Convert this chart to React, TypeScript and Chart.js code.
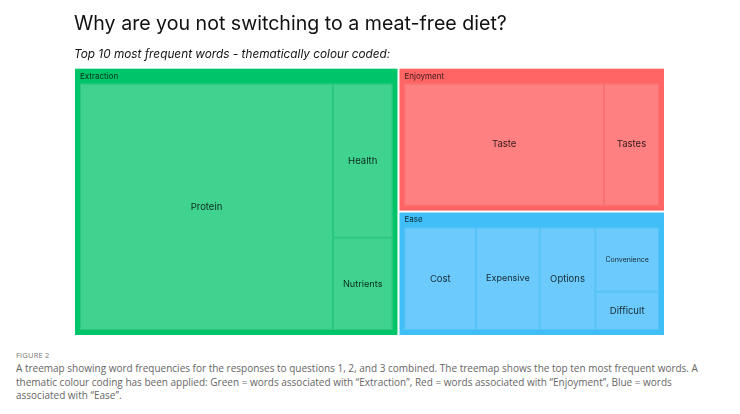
import React, { useEffect, useRef } from "react";
import { Chart, registerables } from "chart.js";

Chart.register(...registerables);

const groups = ["Extraction", "Enjoyment", "Ease"];
const groupColors = ["#00C46A", "#FF6565", "#40BEF8"];
const cellColors = ["#40D38F", "#FF8080", "#6CCBFC"];
const cellBorders = ["#2CC77E", "#F77272", "#55C2F5"];

const words = ["Protein", "Health", "Nutrients", "Taste", "Tastes", "Cost", "Expensive", "Options", "Convenience", "Difficult"];
const counts = [68, 10, 6, 29, 8, 9, 8, 7, 5, 3];
const wordGroups = ["Extraction", "Extraction", "Extraction", "Enjoyment", "Enjoyment", "Ease", "Ease", "Ease", "Ease", "Ease"];

const titleText = "Why are you not switching to a meat-free diet?";
const subtitleText = "Top 10 most frequent words - thematically colour coded:";

type Rect = { x: number; y: number; w: number; h: number };

function worst(row: number[], side: number) {
  const s = row.reduce((a, b) => a + b, 0);
  let mx = 0;
  for (const a of row) {
    const len = s / side;
    const other = a / len;
    const r = Math.max(len / other, other / len);
    if (r > mx) mx = r;
  }
  return mx;
}

function squarify(values: number[], rect: Rect): Rect[] {
  const total = values.reduce((a, b) => a + b, 0);
  const areas = values.map((v) => (v / total) * rect.w * rect.h);
  const out: Rect[] = [];
  let r = { ...rect };
  let row: number[] = [];
  const layoutRow = (rw: number[]) => {
    const s = rw.reduce((a, b) => a + b, 0);
    if (r.w > r.h) {
      const cw = s / r.h;
      let y = r.y;
      for (const a of rw) {
        const h = a / cw;
        out.push({ x: r.x, y, w: cw, h });
        y += h;
      }
      r = { x: r.x + cw, y: r.y, w: r.w - cw, h: r.h };
    } else {
      const rh = s / r.w;
      let x = r.x;
      for (const a of rw) {
        const w = a / rh;
        out.push({ x, y: r.y, w, h: rh });
        x += w;
      }
      r = { x: r.x, y: r.y + rh, w: r.w, h: r.h - rh };
    }
  };
  let i = 0;
  while (i < areas.length) {
    const side = Math.min(r.w, r.h);
    const a = areas[i];
    if (row.length === 0 || worst([...row, a], side) <= worst(row, side)) {
      row.push(a);
      i++;
    } else {
      layoutRow(row);
      row = [];
    }
  }
  if (row.length) layoutRow(row);
  return out;
}

const treemapPlugin = {
  id: "treemapCells",
  afterDatasetsDraw(chart: any) {
    const { ctx } = chart;
    const xs = chart.scales.x;
    const ys = chart.scales.y;
    const x0 = xs.getPixelForValue(0);
    const x1 = xs.getPixelForValue(1);
    const y0 = ys.getPixelForValue(1);
    const y1 = ys.getPixelForValue(0);
    const area: Rect = { x: x0, y: y0, w: x1 - x0, h: y1 - y0 };
    const groupTotals = groups.map((g) =>
      counts.reduce((s, c, i) => (wordGroups[i] === g ? s + c : s), 0)
    );
    const groupRects = squarify(groupTotals, area);
    ctx.save();
    groups.forEach((g, gi) => {
      const gr = groupRects[gi];
      const gx = gr.x + 1, gy = gr.y + 1, gw = gr.w - 2, gh = gr.h - 2;
      ctx.fillStyle = groupColors[gi];
      ctx.fillRect(gx, gy, gw, gh);
      ctx.fillStyle = "rgba(0,0,0,0.78)";
      ctx.font = "8px Inter";
      ctx.textAlign = "left";
      ctx.textBaseline = "middle";
      ctx.fillText(g, gx + 5, gy + 7.5);
      const idx = words.map((_, i) => i).filter((i) => wordGroups[i] === g);
      const inner: Rect = { x: gx + 5, y: gy + 15, w: gw - 10, h: gh - 20 };
      const cells = squarify(idx.map((i) => counts[i]), inner);
      idx.forEach((wi, k) => {
        const c = cells[k];
        ctx.fillStyle = cellColors[gi];
        ctx.fillRect(c.x, c.y, c.w, c.h);
        ctx.strokeStyle = cellBorders[gi];
        ctx.lineWidth = 1;
        ctx.strokeRect(c.x + 0.5, c.y + 0.5, c.w - 1, c.h - 1);
        let size = 9.5;
        ctx.font = `${size}px Inter`;
        const tw = ctx.measureText(words[wi]).width;
        if (tw > c.w - 20) {
          size = size * (c.w - 20) / tw;
          ctx.font = `${size}px Inter`;
        }
        ctx.fillStyle = "rgba(0,0,0,0.8)";
        ctx.textAlign = "center";
        ctx.textBaseline = "middle";
        ctx.fillText(words[wi], c.x + c.w / 2, c.y + c.h / 2);
      });
    });
    ctx.restore();
  },
};

export default function App() {
  const ref = useRef<HTMLCanvasElement>(null);
  useEffect(() => {
    if (!ref.current) return;
    const chart = new Chart(ref.current, {
      type: "scatter",
      data: { datasets: [{ data: [], pointRadius: 0 }] },
      options: {
        animation: false,
        responsive: true,
        maintainAspectRatio: false,
        layout: { padding: { left: 66, right: 67, top: 0, bottom: 0 } },
        plugins: {
          legend: { display: false },
          tooltip: { enabled: false },
          title: {
            display: true,
            text: titleText,
            align: "start",
            color: "#111",
            font: { family: "Inter", size: 19.6, weight: "normal" },
            padding: { top: 4, bottom: 4 },
          },
          subtitle: {
            display: true,
            text: subtitleText,
            align: "start",
            color: "#111",
            font: { family: "Inter", size: 11.8, style: "italic", weight: "normal" },
            padding: { top: 8, bottom: 6 },
          },
        },
        scales: {
          x: { type: "linear", min: 0, max: 1, display: false },
          y: { type: "linear", min: 0, max: 1, display: false },
        },
      },
      plugins: [treemapPlugin],
    } as any);
    return () => chart.destroy();
  }, []);
  return (
    <div>
      <div style={{ position: "relative", width: 724, height: 328 }}>
        <canvas ref={ref} />
      </div>
      <div style={{ paddingLeft: 8, paddingTop: 14, fontFamily: "'Open Sans', sans-serif", color: "#666" }}>
        <div style={{ fontSize: 7.5, lineHeight: "10px", letterSpacing: 0.2, color: "#777" }}>FIGURE 2</div>
        <div style={{ fontSize: 10, lineHeight: "13.5px", marginTop: 2 }}>
          A treemap showing word frequencies for the responses to questions 1, 2, and 3 combined. The treemap shows the top ten most frequent words. A
          <br />
          thematic colour coding has been applied: Green = words associated with “Extraction”, Red = words associated with “Enjoyment”, Blue = words
          <br />
          associated with “Ease”.
        </div>
      </div>
    </div>
  );
}
